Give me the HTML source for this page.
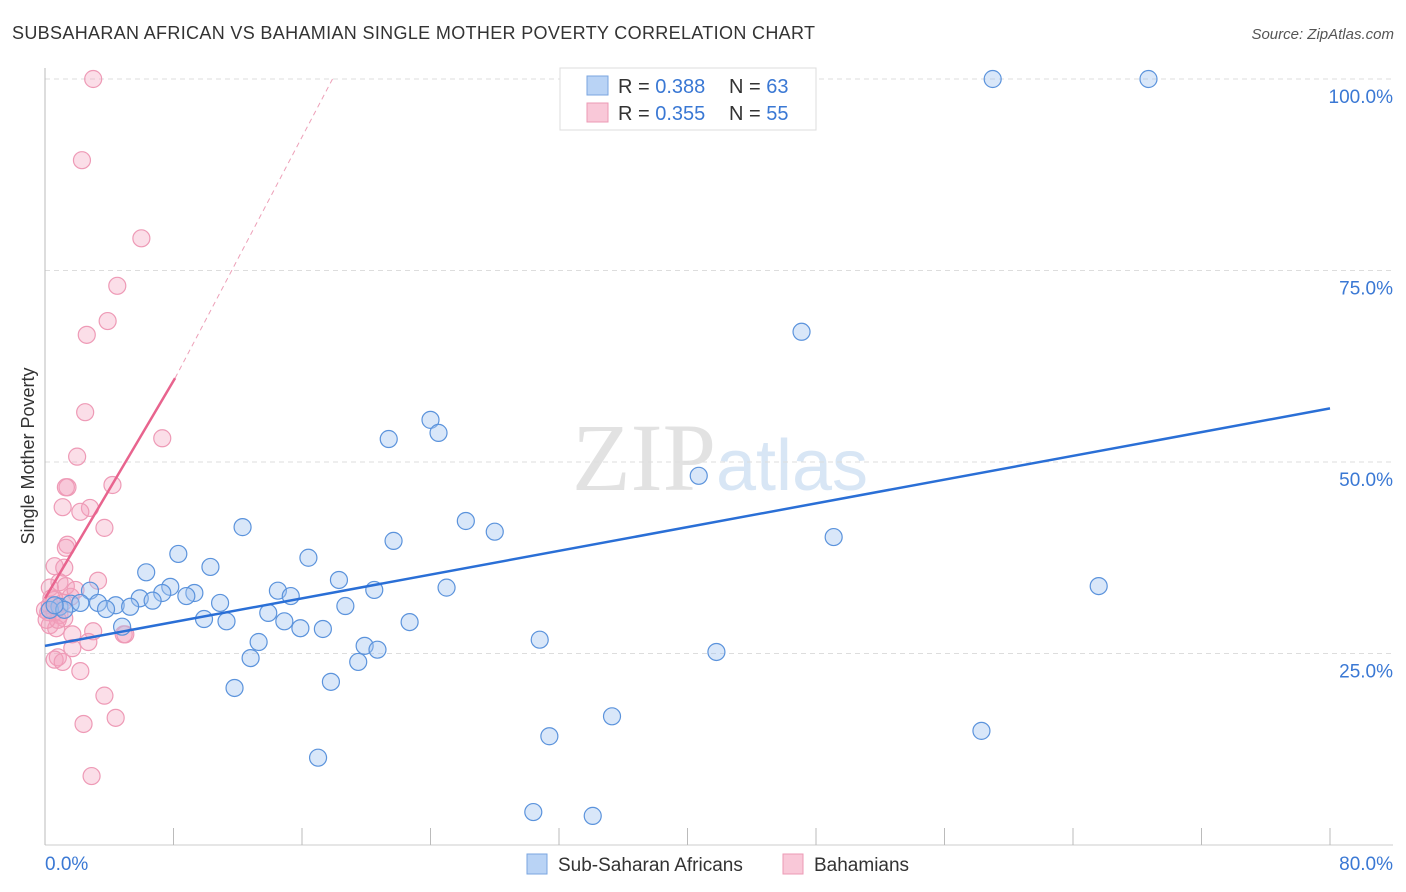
<!DOCTYPE html>
<html><head><meta charset="utf-8"><style>
body{margin:0;background:#fff;font-family:"Liberation Sans",sans-serif}
#w{position:relative;width:1406px;height:892px;overflow:hidden}
</style></head><body><div id="w">
<svg id="s" width="1406" height="892" xmlns="http://www.w3.org/2000/svg" font-family="Liberation Sans, sans-serif">
<text x="12" y="39" font-size="18" fill="#333" textLength="803">SUBSAHARAN AFRICAN VS BAHAMIAN SINGLE MOTHER POVERTY CORRELATION CHART</text>
<text x="1394" y="39" font-size="15" fill="#555" text-anchor="end" font-style="italic">Source: ZipAtlas.com</text>
<text x="34" y="456" font-size="18" fill="#333" text-anchor="middle" transform="rotate(-90 34 456)">Single Mother Poverty</text>
<text x="720" y="490" font-size="96" fill="#e2e2e2" text-anchor="middle" font-family="Liberation Serif, serif">ZIP<tspan fill="#d8e6f5" font-family="Liberation Sans, sans-serif" font-size="72">atlas</tspan></text>
<g id="grid"></g><g id="pts"></g><g id="lines"></g>
<g>
<rect x="560" y="68" width="256" height="62" fill="#fff" stroke="#ddd"/>
<rect x="587" y="76" width="21" height="19" fill="#b9d3f5" stroke="#7aa6e0"/>
<rect x="587" y="103" width="21" height="19" fill="#f9c8d8" stroke="#ec9ab5"/>
<text x="618" y="93" font-size="20" fill="#333">R = <tspan fill="#3a78d4">0.388</tspan></text>
<text x="729" y="93" font-size="20" fill="#333">N = <tspan fill="#3a78d4">63</tspan></text>
<text x="618" y="120" font-size="20" fill="#333">R = <tspan fill="#3a78d4">0.355</tspan></text>
<text x="729" y="120" font-size="20" fill="#333">N = <tspan fill="#3a78d4">55</tspan></text>
</g>
<g>
<rect x="527" y="854" width="20" height="20" fill="#b9d3f5" stroke="#7aa6e0"/>
<text x="558" y="871" font-size="19" fill="#333">Sub-Saharan Africans</text>
<rect x="783" y="854" width="20" height="20" fill="#f9c8d8" stroke="#ec9ab5"/>
<text x="814" y="871" font-size="19" fill="#333">Bahamians</text>
</g>
</svg></div>
<script>
const blueX=[59.0,68.7,47.1,24.0,24.5,21.4,40.7,26.2,28.0,49.1,12.3,21.7,8.3,16.4,6.3,10.3,18.3,65.6,20.5,25.0,14.5,15.3,7.8,7.3,9.3,8.8,5.9,6.7,10.9,18.7,2.8,3.3,4.4,5.3,3.8,0.9,1.6,2.2,0.3,13.9,9.9,11.3,14.9,22.7,15.9,17.3,4.8,13.3,30.8,19.9,20.7,41.8,19.5,12.8,17.8,11.8,35.3,58.3,31.4,17.0,30.4,34.1,1.2,0.6];
const blueY=[100,100,67.0,55.5,53.8,53.0,48.2,42.3,40.9,40.2,41.5,39.7,38.0,37.5,35.6,36.3,34.6,33.8,33.3,33.6,33.2,32.5,33.7,32.9,32.9,32.5,32.2,31.9,31.6,31.2,33.2,31.6,31.3,31.1,30.8,31.1,31.5,31.6,30.7,30.3,29.5,29.2,29.2,29.1,28.3,28.2,28.5,26.5,26.8,26.0,25.5,25.2,23.9,24.4,21.3,20.5,16.8,14.9,14.2,11.4,4.3,3.8,30.7,31.3];
const pinkX=[3.0,2.3,6.0,4.5,3.9,2.6,2.5,7.3,2.0,1.4,1.3,4.2,1.1,2.8,2.2,3.7,1.4,1.3,0.6,1.2,3.3,0.9,1.3,0.3,1.6,0.6,1.1,0.3,0.2,0.6,0.9,1.2,0.3,0.7,3.0,1.7,4.9,5.0,2.7,1.7,0.8,0.6,1.1,2.2,3.7,4.4,2.4,2.9,0.8,0.4,1.9,0,0.1];
const pinkY=[100,89.4,79.2,73.0,68.4,66.6,56.5,53.1,50.7,46.7,46.7,47.0,44.1,44.0,43.5,41.4,39.2,38.8,36.4,36.2,34.5,34.3,33.8,33.6,32.4,32.0,31.6,31.3,30.4,30.4,30.0,29.6,28.7,28.3,27.9,27.5,27.5,27.5,26.5,25.7,24.5,24.2,23.9,22.7,19.5,16.6,15.8,9.0,29.4,32.2,33.3,30.7,29.4];
const blueTrend=[26.0,57.0];
const pinkTrend=[32.2,3.55];
const pinkDashEnd=[17.9,100];
const yTicks=[25,50,75,100];
const xTickVals=[0,8,16,24,32,40,48,56,64,72,80];
const NS='http://www.w3.org/2000/svg';
const X=v=>45+v/80*1285, Y=v=>845-v*7.66;
function mk(t,a,p){const e=document.createElementNS(NS,t);for(const k in a)e.setAttribute(k,a[k]);p.appendChild(e);return e;}
const g=document.getElementById('grid');
for(const t of yTicks){const l=mk('line',{x1:45,x2:1393,y1:Y(t),y2:Y(t),stroke:'#ddd','stroke-dasharray':'5,4'},g);


const tx=mk('text',{x:1393,y:Y(t)+24,'font-size':19,fill:'#3a78d4','text-anchor':'end'},g);tx.textContent=t.toFixed(1)+'%';

}
const ax=mk('line',{x1:45,x2:45,y1:68,y2:845,stroke:'#bbb'},g);


const bx=mk('line',{x1:45,x2:1393,y1:845,y2:845,stroke:'#ccc'},g);


for(const v of xTickVals){const l=mk('line',{x1:X(v),x2:X(v),y1:828,y2:845,stroke:'#bbb'},g);

}
const x0=mk('text',{x:45,y:870,'font-size':19,fill:'#3a78d4'},g);x0.textContent='0.0%';


const x1=mk('text',{x:1393,y:870,'font-size':19,fill:'#3a78d4','text-anchor':'end'},g);x1.textContent='80.0%';


const P=document.getElementById('pts');
pinkX.forEach((x,i)=>{const c=mk('circle',{cx:X(x),cy:Y(pinkY[i]),r:8.5,fill:'rgba(244,160,188,0.35)',stroke:'#ee9ab6','stroke-width':1.2},P);

});
blueX.forEach((x,i)=>{const c=mk('circle',{cx:X(x),cy:Y(blueY[i]),r:8.5,fill:'rgba(160,196,240,0.4)',stroke:'#5b93dc','stroke-width':1.2},P);

});
const L=document.getElementById('lines');
const bl=mk('line',{x1:X(0),y1:Y(blueTrend[0]),x2:X(80),y2:Y(blueTrend[1]),stroke:'#2a6fd6','stroke-width':2.5},L);


const xs=8.1;
const pl=mk('line',{x1:X(0),y1:Y(pinkTrend[0]),x2:X(xs),y2:Y(pinkTrend[0]+pinkTrend[1]*xs),stroke:'#e8648e','stroke-width':2.5},L);


const pd=mk('line',{x1:X(xs),y1:Y(pinkTrend[0]+pinkTrend[1]*xs),x2:X(pinkDashEnd[0]),y2:Y(pinkDashEnd[1]),stroke:'#eda0b8','stroke-width':1,'stroke-dasharray':'5,4'},L);


</script></body></html>
